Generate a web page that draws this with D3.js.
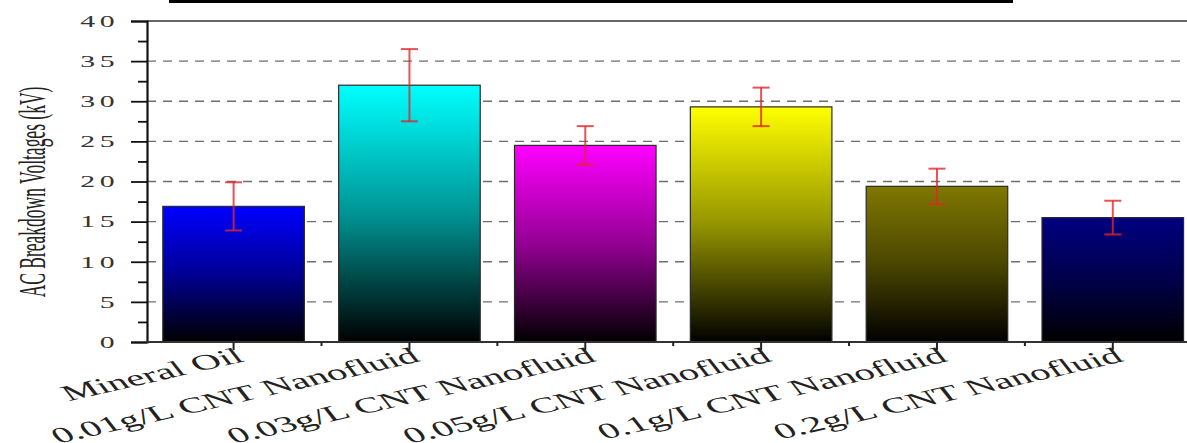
<!DOCTYPE html>
<html>
<head>
<meta charset="utf-8">
<script src="https://cdn.jsdelivr.net/npm/d3@7"></script>
<style>
  html, body { margin: 0; padding: 0; background: #fff; }
  svg { display: block; }
</style>
</head>
<body>
<svg id="chart" width="1187" height="443"></svg>
<script>
// Breakdown voltage of mineral oil and CNT nanofluids
const categories = [
  "Mineral Oil",
  "0.01g/L CNT Nanofluid",
  "0.03g/L CNT Nanofluid",
  "0.05g/L CNT Nanofluid",
  "0.1g/L CNT Nanofluid",
  "0.2g/L CNT Nanofluid"
];
const meanKV = [16.9, 32.0, 24.5, 29.3, 19.4, 15.5];
const errKV  = [3.0, 4.5, 2.4, 2.4, 2.2, 2.1];
const barColors = ["#0000ff", "#00ffff", "#ff00ff", "#ffff00", "#807800", "#000080"];
const yTicks = [0, 5, 10, 15, 20, 25, 30, 35, 40];
const gridValues = [5, 10, 15, 20, 25, 30, 35];

const svg = d3.select("#chart");
const FONT = "'Liberation Serif', 'Times New Roman', serif";
const SX = 1.86; // horizontal stretch of the lettering

const plotLeft = 147, plotTop = 21, plotBottom = 342, step = 175.4;
const plotRight = 1187;
const x = d3.scaleBand()
  .domain(categories)
  .range([plotLeft, plotLeft + step * categories.length])
  .paddingInner(0.195)
  .paddingOuter(0.09);
const y = d3.scaleLinear().domain([0, 40]).range([plotBottom, plotTop]);

// gradients: colour at the top fading to black at the base
const defs = svg.append("defs");
barColors.forEach((c, i) => {
  const g = defs.append("linearGradient")
    .attr("id", "grad" + i)
    .attr("x1", 0).attr("y1", 0).attr("x2", 0).attr("y2", 1);
  g.append("stop").attr("offset", "0%").attr("stop-color", c);
  g.append("stop").attr("offset", "50%").attr("stop-color", d3.interpolateRgb("#000", c)(0.58));
  g.append("stop").attr("offset", "100%").attr("stop-color", "#000000");
});

// rule across the very top
svg.append("line")
  .attr("x1", 169).attr("x2", 1013)
  .attr("y1", 1.5).attr("y2", 1.5)
  .attr("stroke", "#000").attr("stroke-width", 3);

// dashed grid
svg.append("g").selectAll("line")
  .data(gridValues)
  .join("line")
  .attr("x1", plotLeft).attr("x2", plotRight)
  .attr("y1", d => y(d)).attr("y2", d => y(d))
  .attr("stroke", "#6e6e6e")
  .attr("stroke-width", 1.4)
  .attr("stroke-dasharray", "9,7");

// frame top
svg.append("line")
  .attr("x1", plotLeft).attr("x2", plotRight)
  .attr("y1", y(40)).attr("y2", y(40))
  .attr("stroke", "#333").attr("stroke-width", 1.6);

// bars
svg.append("g").selectAll("rect")
  .data(categories)
  .join("rect")
  .attr("x", d => x(d))
  .attr("width", x.bandwidth())
  .attr("y", (d, i) => y(meanKV[i]))
  .attr("height", (d, i) => y(0) - y(meanKV[i]))
  .attr("fill", (d, i) => `url(#grad${i})`)
  .attr("stroke", "#2a2a2a")
  .attr("stroke-width", 1.2);

// error bars
const eb = svg.append("g")
  .attr("stroke", "#e3262b")
  .attr("stroke-opacity", 0.8)
  .attr("stroke-width", 2);
categories.forEach((c, i) => {
  const cx = x(c) + x.bandwidth() / 2;
  const y1 = y(meanKV[i] + errKV[i]);
  const y2 = y(meanKV[i] - errKV[i]);
  eb.append("line").attr("x1", cx).attr("x2", cx).attr("y1", y1).attr("y2", y2);
  eb.append("line").attr("x1", cx - 8.5).attr("x2", cx + 8.5).attr("y1", y1).attr("y2", y1);
  eb.append("line").attr("x1", cx - 8.5).attr("x2", cx + 8.5).attr("y1", y2).attr("y2", y2);
});

// y axis: major and minor ticks
const yAxis = svg.append("g")
  .attr("transform", `translate(${plotLeft},0)`)
  .call(d3.axisLeft(y).tickValues(yTicks).tickSize(16).tickFormat(""));
yAxis.select(".domain").attr("stroke", "#111").attr("stroke-width", 2.2);
yAxis.selectAll(".tick line").attr("stroke", "#111").attr("stroke-width", 1.8);
const yMinor = svg.append("g")
  .attr("transform", `translate(${plotLeft},0)`)
  .call(d3.axisLeft(y).tickValues(d3.range(2.5, 40, 5)).tickSize(9).tickFormat(""));
yMinor.select(".domain").remove();
yMinor.selectAll(".tick line").attr("stroke", "#111").attr("stroke-width", 1.8);

// y tick labels
svg.append("g").selectAll("text")
  .data(yTicks)
  .join("text")
  .attr("transform", d => `translate(119,${y(d)}) scale(${SX},1)`)
  .attr("text-anchor", "end")
  .attr("dy", "0.36em")
  .attr("font-family", FONT)
  .attr("font-size", 16)
  .attr("letter-spacing", 2.4)
  .attr("fill", "#333")
  .text(d => d);

// x axis
const xAxis = svg.append("g")
  .attr("transform", `translate(0,${plotBottom})`)
  .call(d3.axisBottom(x).tickSize(8).tickFormat(""));
xAxis.select(".domain").attr("d", `M${plotLeft},0H${plotRight}`)
  .attr("stroke", "#333").attr("stroke-width", 1.8);
xAxis.selectAll(".tick line").attr("stroke", "#222").attr("stroke-width", 2);
const bounds = categories.slice(1).map(c => x(c) - x.step() * x.paddingInner() / 2);
svg.append("g").selectAll("line")
  .data(bounds)
  .join("line")
  .attr("x1", d => d).attr("x2", d => d)
  .attr("y1", plotBottom).attr("y2", plotBottom + 4)
  .attr("stroke", "#222").attr("stroke-width", 2);

// x labels, slanted
svg.append("g").selectAll("text")
  .data(categories)
  .join("text")
  .attr("transform", d => `translate(${x(d) + x.bandwidth() / 2 + 12},${plotBottom + 19}) scale(${SX},1) rotate(-23)`)
  .attr("text-anchor", "end")
  .attr("font-family", FONT)
  .attr("font-size", 22)
  .attr("fill", "#222")
  .text(d => d);

// y axis title
svg.append("text")
  .attr("transform", `translate(45,192) scale(2.2,1) rotate(-90)`)
  .attr("text-anchor", "middle")
  .attr("font-family", FONT)
  .attr("font-size", 17.5)
  .attr("fill", "#222")
  .text("AC Breakdown Voltages (kV)");
</script>
</body>
</html>
